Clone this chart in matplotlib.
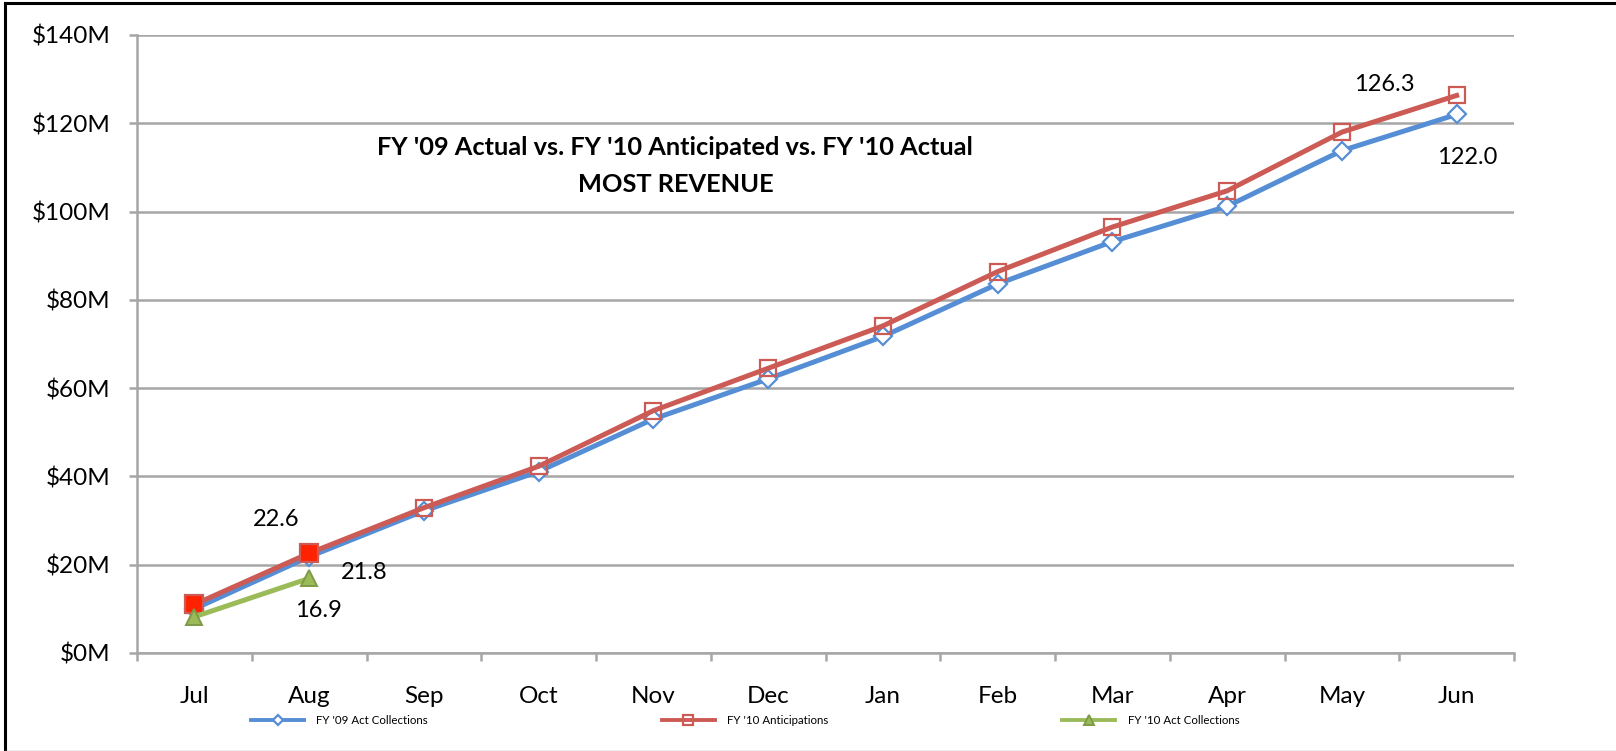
import matplotlib
matplotlib.use("Agg")
import matplotlib.pyplot as plt
from matplotlib.lines import Line2D
from matplotlib.ticker import FixedLocator, FuncFormatter

# ---------------------------
# Dados
# ---------------------------
meses = ['Jul', 'Aug', 'Sep', 'Oct', 'Nov', 'Dec', 'Jan', 'Feb', 'Mar', 'Apr', 'May', 'Jun']
fy09_atual = [10.0, 21.8, 32.2, 41.1, 53.0, 62.1, 71.7, 83.6, 93.2, 101.2, 113.8, 122.0]
fy10_previsto = [11.0, 22.6, 32.9, 42.3, 54.9, 64.5, 74.1, 86.4, 96.5, 104.7, 118.0, 126.3]
fy10_atual = [8.2, 16.9]

nomes_series = ["FY '09 Act Collections", "FY '10 Anticipations", "FY '10 Act Collections"]
titulo = "FY '09 Actual vs. FY '10 Anticipated vs. FY '10 Actual\nMOST REVENUE"

# ---------------------------
# Estilo
# ---------------------------
plt.rcParams['font.family'] = ['Lato', 'DejaVu Sans']
AZUL = '#558ED5'
VERMELHO = '#CC5B55'
VERDE = '#9BBB59'
CINZA = '#A6A6A6'

fig = plt.figure(figsize=(16.16, 7.51), dpi=100)
ax = fig.add_axes([137 / 1616, 1 - 653 / 751, 1377 / 1616, 618 / 751])

x = list(range(len(meses)))

ax.plot(x, fy09_atual, color=AZUL, lw=3.6, marker='D', ms=9, mfc='white',
        mec=AZUL, mew=1.6, label=nomes_series[0], zorder=3)
ax.plot(x, fy10_previsto, color=VERMELHO, lw=3.6, marker='s', ms=12, mfc='none',
        mec=VERMELHO, mew=1.6, label=nomes_series[1], zorder=4)
# os dois meses ja realizados aparecem com marcador cheio
n_real = len(fy10_atual)
ax.plot(x[:n_real], fy10_previsto[:n_real], ls='none', marker='s', ms=12.5,
        mfc='#FF2200', mec=VERMELHO, mew=1.6, zorder=5)
ax.plot(x[:n_real], fy10_atual, color=VERDE, lw=3.6, marker='^', ms=12,
        mfc=VERDE, mec='#7F9A48', mew=1.4, label=nomes_series[2], zorder=6)

# rotulos de dados
fs_rot = 17
def rotulo(xi, yi, dx, dy):
    ax.annotate(f'{yi:.1f}', (xi, yi), xytext=(dx, dy), textcoords='offset pixels',
                ha='center', va='center', fontsize=fs_rot, zorder=7)

rotulo(x[1], fy10_previsto[1], -33, 34)
rotulo(x[1], fy09_atual[1], 55, -16)
rotulo(x[1], fy10_atual[1], 9, -32)
rotulo(x[-1], fy10_previsto[-1], -72, 11)
rotulo(x[-1], fy09_atual[-1], 11, -43)

# eixos
ax.set_xlim(-0.5, len(meses) - 0.5)
ax.set_ylim(0, 140)
ax.set_yticks(range(0, 141, 20))
ax.yaxis.set_major_formatter(FuncFormatter(lambda v, p: f'${v:.0f}M'))
ax.set_xticks(x)
ax.set_xticklabels(meses)
ax.xaxis.set_minor_locator(FixedLocator([i - 0.5 for i in range(len(meses) + 1)]))
ax.tick_params(axis='x', which='major', length=0, pad=24, labelsize=17.5)
ax.tick_params(axis='x', which='minor', length=6, width=1.8, color=CINZA)
ax.tick_params(axis='y', length=6, width=1.8, color=CINZA, pad=13, labelsize=17.5)
ax.grid(axis='y', color=CINZA, lw=1.8)
ax.set_axisbelow(True)
for lado in ['top', 'right']:
    ax.spines[lado].set_visible(False)
for lado in ['left', 'bottom']:
    ax.spines[lado].set_color(CINZA)
    ax.spines[lado].set_linewidth(1.8)

ax.text(0.391, 0.788, titulo, transform=ax.transAxes, ha='center', va='center',
        fontsize=18.3, fontweight='bold', linespacing=1.7)

# legenda
leg = fig.legend(loc='center left', bbox_to_anchor=(251 / 1616, 1 - 721 / 751),
                 ncol=3, frameon=False, fontsize=8.3, handlelength=4.6,
                 handletextpad=1.05, columnspacing=20.3, markerscale=0.55,
                 borderpad=0, borderaxespad=0)
for linha in leg.get_lines():
    linha.set_linewidth(2.8)

# moldura
fig.add_artist(Line2D([5 / 1616, 5 / 1616], [0, 1 - 3 / 751], color='black', lw=2.2))
fig.add_artist(Line2D([5 / 1616, 1], [1 - 3 / 751, 1 - 3 / 751], color='black', lw=2.2))
fig.add_artist(Line2D([5 / 1616, 1], [0.5 / 751, 0.5 / 751], color=CINZA, lw=1))

fig.savefig('out.png', dpi=100)
